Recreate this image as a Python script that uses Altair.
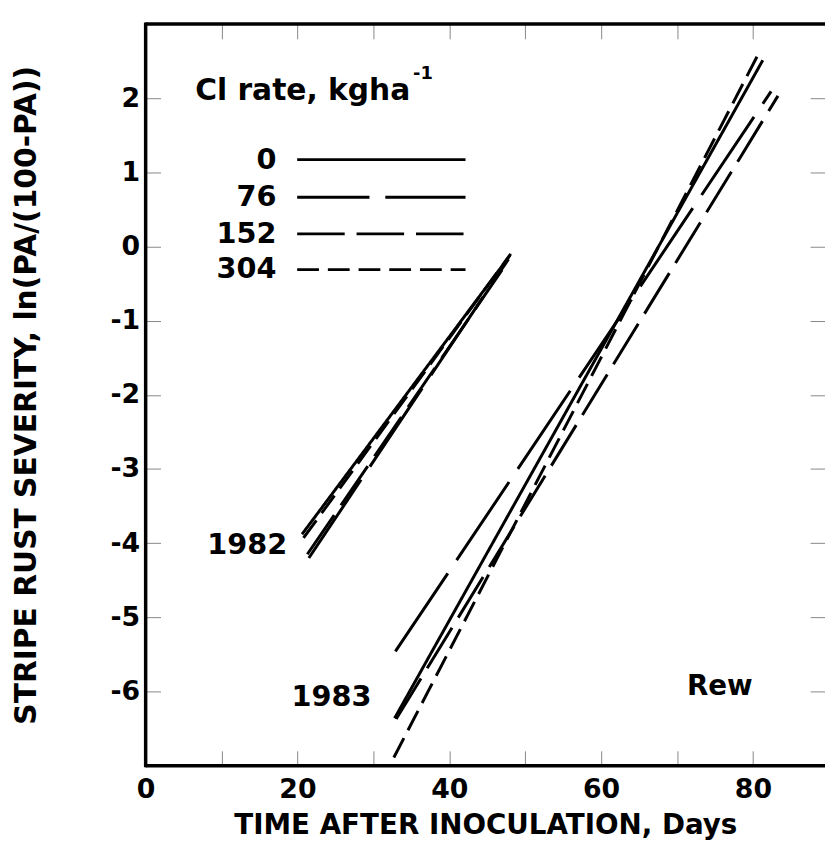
import altair as alt
import pandas as pd

# ---- data (regression lines: start/end points) ----
years = ["1982", "1982", "1982", "1982", "1983", "1983", "1983", "1983"]
rates = ["0", "76", "152", "304", "0", "76", "152", "304"]
start_day = [20.6, 21.5, 21.3, 20.8, 32.8, 32.9, 33.0, 32.7]
start_sev = [-3.88, -4.20, -4.15, -3.93, -6.36, -5.46, -6.37, -6.89]
end_day = [48.0, 47.8, 47.6, 48.1, 81.3, 82.4, 83.3, 80.9]
end_sev = [-0.12, -0.17, -0.22, -0.10, 2.51, 2.09, 2.03, 2.63]

rate_levels = ["0", "76", "152", "304"]
x_ticks = [0, 10, 20, 30, 40, 50, 60, 70, 80]
y_ticks = [-6, -5, -4, -3, -2, -1, 0, 1, 2]
y_ticks_right = [-7, -6, -5, -4, -3, -2, -1, 0, 1, 2]

rows = []
for yr, rt, d0, s0, d1, s1 in zip(years, rates, start_day, start_sev, end_day, end_sev):
    rows.append({"year": yr, "rate": rt, "day": d0, "sev": s0})
    rows.append({"year": yr, "rate": rt, "day": d1, "sev": s1})
df = pd.DataFrame(rows)

W, H = 686, 749
FONT = "DejaVu Sans"
dash_range = [[1, 0], [95, 16], [48, 12], [22, 9]]

xscale = alt.Scale(domain=[0, 89.5], nice=False, zero=False)
yscale = alt.Scale(domain=[-7, 3], nice=False, zero=False)

lines = alt.Chart(df).mark_line(color="black", strokeWidth=3, strokeCap="butt").encode(
    x=alt.X("day:Q", scale=xscale,
            axis=alt.Axis(orient="bottom", values=x_ticks,
                          labelExpr="datum.value % 20 == 0 ? datum.label : ''",
                          tickSize=15, offset=-15, domain=False, grid=False,
                          labelPadding=11, labelFlush=False, labelOverlap=False,
                          labelFont=FONT, labelFontWeight="bold", labelFontSize=27,
                          labelColor="black",
                          titleFont=FONT, titleFontWeight="bold", titleFontSize=28,
                          titleColor="black",
                          title="TIME AFTER INOCULATION, Days",
                          titleY=83, titleBaseline="alphabetic")),
    y=alt.Y("sev:Q", scale=yscale,
            axis=alt.Axis(orient="left", values=y_ticks,
                          labelExpr="datum.value < 0 ? '-' + abs(datum.value) : '' + datum.value",
                          tickSize=15, offset=-15, domain=False, grid=False,
                          labelPadding=6, labelFont=FONT, labelFontWeight="bold",
                          labelFontSize=27, labelColor="black",
                          titleFont=FONT, titleFontWeight="bold", titleFontSize=30,
                          titleColor="black",
                          title="STRIPE RUST SEVERITY, ln(PA/(100-PA))",
                          titleAngle=270, titleBaseline="middle", titleAlign="center",
                          titleX=-135)),
    strokeDash=alt.StrokeDash("rate:N", scale=alt.Scale(domain=rate_levels, range=dash_range),
                              legend=None),
    detail="year:N",
)

# top and right inward ticks (same data, invisible)
ghost = alt.Chart(df).mark_line(opacity=0).encode(
    x=alt.X("day:Q", scale=xscale,
            axis=alt.Axis(orient="top", values=x_ticks + [90], tickSize=15, offset=-15,
                          domain=False, grid=False, labels=False, title=None)),
    y=alt.Y("sev:Q", scale=yscale,
            axis=alt.Axis(orient="right", values=y_ticks_right, tickSize=15, offset=-15,
                          domain=False, grid=False, labels=False, title=None)),
    detail="year:N",
    strokeDash=alt.StrokeDash("rate:N", legend=None),
)

one = pd.DataFrame({"k": [0]})
frame_left = alt.Chart(one).mark_rule(color="black", strokeWidth=3.5).encode(
    x=alt.value(0), y=alt.value(-1.5), y2=alt.value(H + 1.5))
frame_top = alt.Chart(one).mark_rule(color="black", strokeWidth=3.5).encode(
    y=alt.value(0), x=alt.value(0), x2=alt.value(W + 5))
frame_bottom = alt.Chart(one).mark_rule(color="black", strokeWidth=3.5).encode(
    y=alt.value(H), x=alt.value(0), x2=alt.value(W + 5))


def label(txt, x, y, size, align="left", baseline="middle"):
    return alt.Chart(pd.DataFrame({"t": [txt]})).mark_text(
        font=FONT, fontWeight="bold", fontSize=size, align=align, baseline=baseline,
        color="black").encode(text="t:N", x=alt.value(x), y=alt.value(y))


annots = [
    label("1982", 143, 526, 29, align="right"),
    label("1983", 228, 680, 29, align="right"),
    label("Rew", 613, 670, 28, align="right"),
    label("Cl rate, kgha", 50, 77, 30, baseline="alphabetic"),
    label("-1", 270, 56, 18, baseline="alphabetic"),
]

legend_y = {"0": 137, "76": 175, "152": 212, "304": 248}
legend_offset = {"0": 0, "76": 22, "152": 0, "304": 0}
legend_layers = []
for r, dash in zip(rate_levels, dash_range):
    legend_layers.append(label(r, 132, legend_y[r], 29, align="right"))
    legend_layers.append(
        alt.Chart(pd.DataFrame({"rate": [r]})).mark_rule(
            color="black", strokeWidth=2.8, strokeDash=dash,
            strokeDashOffset=legend_offset[r], strokeCap="butt").encode(
            x=alt.value(153), x2=alt.value(323), y=alt.value(legend_y[r]))
    )

chart = alt.layer(lines, ghost, frame_left, frame_top, frame_bottom, *annots, *legend_layers).properties(
    width=W, height=H,
    padding={"left": 139, "top": 12, "right": 0, "bottom": 76},
    autosize=alt.AutoSizeParams(type="none"),
).configure_view(stroke=None).configure_axis(
    tickColor="black", tickWidth=3,
).configure(background="white")

chart.save("out.html", embed_options={"renderer": "svg", "actions": False})
